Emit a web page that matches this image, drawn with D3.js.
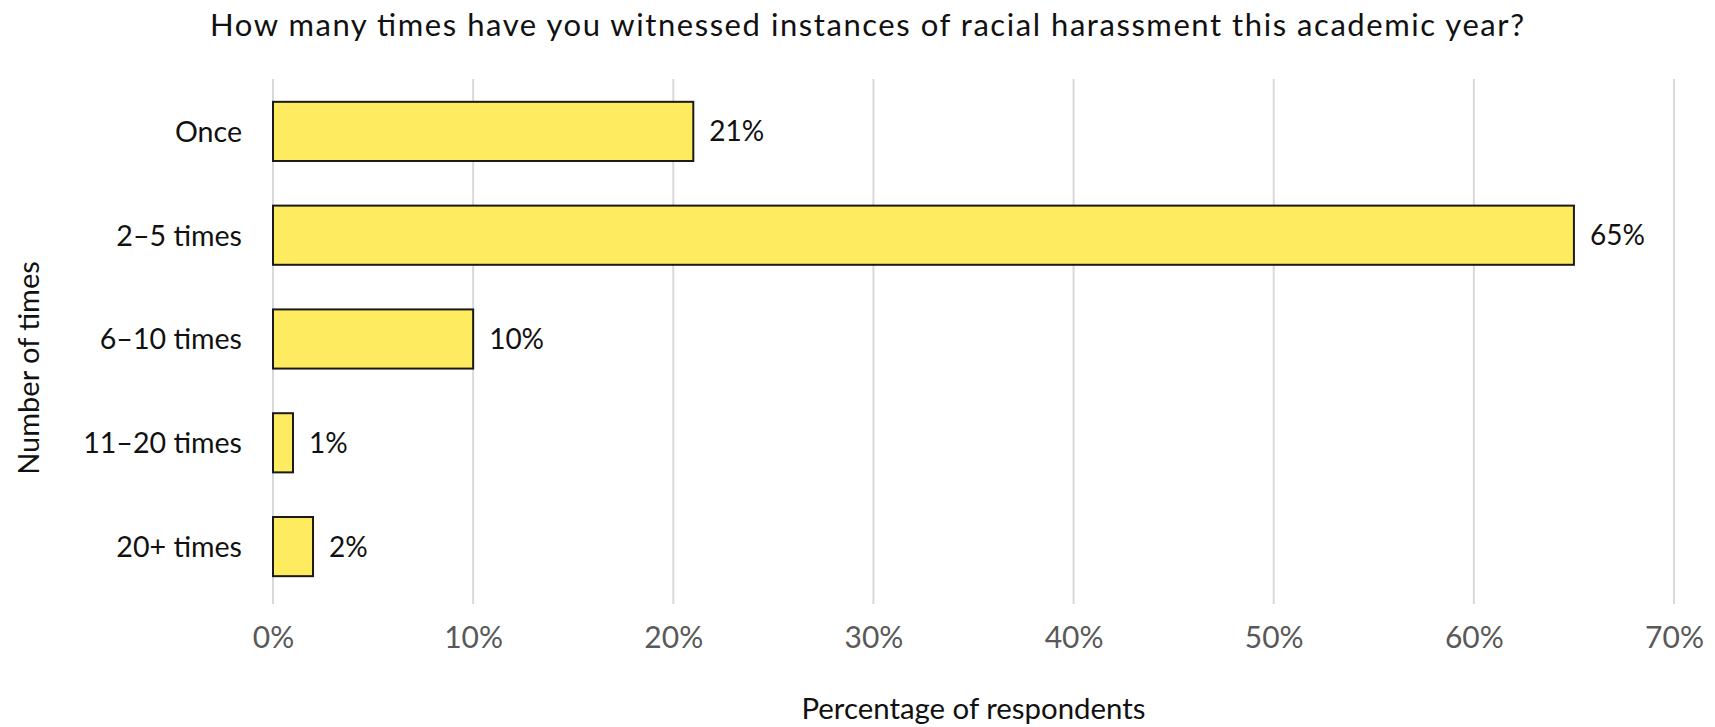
<!DOCTYPE html>
<html>
<head>
<meta charset="utf-8">
<script src="https://cdn.jsdelivr.net/npm/d3@7"></script>
<style>
  html, body { margin: 0; padding: 0; background: #ffffff; }
  svg text { font-family: Lato, "Open Sans", sans-serif; }
</style>
</head>
<body>
<svg id="chart" width="1715" height="727"></svg>
<script>
// Survey responses: frequency of witnessing racial harassment
const categories = ["Once", "2–5 times", "6–10 times", "11–20 times", "20+ times"];
const shares = [21, 65, 10, 1, 2];
const xTicks = [0, 10, 20, 30, 40, 50, 60, 70];

const titleText = "How many times have you witnessed instances of racial harassment this academic year?";
const xTitle = "Percentage of respondents";
const yTitle = "Number of times";

const W = 1715, H = 727;
const margin = { top: 79, right: 41, bottom: 123, left: 273 };
const plotW = W - margin.left - margin.right;
const plotH = H - margin.top - margin.bottom;

const svg = d3.select("#chart");

const x = d3.scaleLinear().domain([0, 70]).range([0, plotW]);
const y = d3.scaleBand().domain(categories).range([-2.5, plotH - 2.5])
  .paddingInner(0.43).paddingOuter(0.244);

const g = svg.append("g").attr("transform", `translate(${margin.left},${margin.top})`);

// Vertical gridlines
g.append("g").selectAll("line").data(xTicks).join("line")
  .attr("x1", d => x(d)).attr("x2", d => x(d))
  .attr("y1", 0).attr("y2", plotH)
  .attr("stroke", "#d9d9d9").attr("stroke-width", 2);

// Bars
g.append("g").selectAll("rect").data(categories).join("rect")
  .attr("x", x(0))
  .attr("y", d => y(d))
  .attr("width", (d, i) => x(shares[i]) - x(0))
  .attr("height", y.bandwidth())
  .attr("fill", "#ffeb5f")
  .attr("stroke", "#1a1a1a")
  .attr("stroke-width", 2);

// Value labels
g.append("g").selectAll("text").data(categories).join("text")
  .attr("x", (d, i) => x(shares[i]) + 16)
  .attr("y", d => y(d) + y.bandwidth() / 2)
  .attr("dy", "0.36em")
  .attr("font-size", 28)
  .attr("fill", "#111111")
  .text((d, i) => shares[i] + "%");

// Category axis labels
const yAxis = d3.axisLeft(y).tickSize(0).tickPadding(31);
const yg = g.append("g").call(yAxis);
yg.select(".domain").remove();
yg.selectAll("text")
  .attr("font-size", 28.6)
  .attr("fill", "#111111")
  .attr("dy", "0.36em");

// Percentage axis labels
const xAxis = d3.axisBottom(x).tickValues(xTicks).tickFormat(d => d + "%").tickSize(0).tickPadding(23);
const xg = g.append("g").attr("transform", `translate(0,${plotH})`).call(xAxis);
xg.select(".domain").remove();
xg.selectAll("text")
  .attr("font-size", 30)
  .attr("fill", "#595959");

// Title
svg.append("text")
  .attr("x", 867).attr("y", 36)
  .attr("text-anchor", "middle")
  .attr("font-size", 31)
  .attr("textLength", 1314)
  .attr("lengthAdjust", "spacing")
  .attr("fill", "#111111")
  .text(titleText);

// Axis titles
svg.append("text")
  .attr("x", margin.left + plotW / 2).attr("y", 719)
  .attr("text-anchor", "middle")
  .attr("font-size", 29.4)
  .attr("fill", "#111111")
  .text(xTitle);

svg.append("text")
  .attr("transform", `translate(39,368) rotate(-90)`)
  .attr("text-anchor", "middle")
  .attr("font-size", 29)
  .attr("fill", "#111111")
  .text(yTitle);
</script>
</body>
</html>
